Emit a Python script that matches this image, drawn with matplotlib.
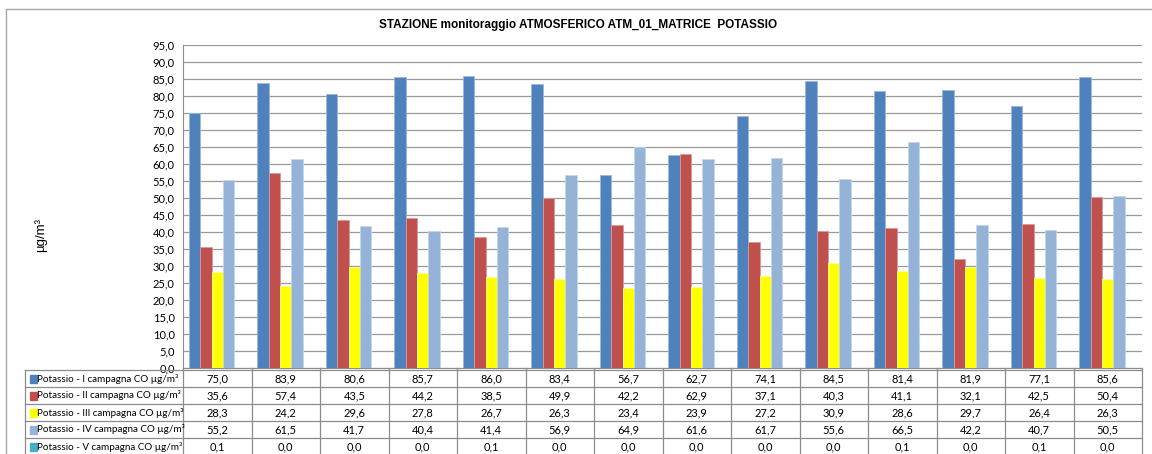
import matplotlib
matplotlib.use("Agg")
import matplotlib.pyplot as plt
from matplotlib.patches import Rectangle
from matplotlib.lines import Line2D
import numpy as np

series_names = [
    "Potassio - I campagna CO µg/m³",
    "Potassio - II campagna CO µg/m³",
    "Potassio - III campagna CO µg/m³",
    "Potassio - IV campagna CO µg/m³",
    "Potassio - V campagna CO µg/m³",
]
camp_1 = [75.0, 83.9, 80.6, 85.7, 86.0, 83.4, 56.7, 62.7, 74.1, 84.5, 81.4, 81.9, 77.1, 85.6]
camp_2 = [35.6, 57.4, 43.5, 44.2, 38.5, 49.9, 42.2, 62.9, 37.1, 40.3, 41.1, 32.1, 42.5, 50.4]
camp_3 = [28.3, 24.2, 29.6, 27.8, 26.7, 26.3, 23.4, 23.9, 27.2, 30.9, 28.6, 29.7, 26.4, 26.3]
camp_4 = [55.2, 61.5, 41.7, 40.4, 41.4, 56.9, 64.9, 61.6, 61.7, 55.6, 66.5, 42.2, 40.7, 50.5]
camp_5 = [0.1, 0.0, 0.0, 0.0, 0.1, 0.0, 0.0, 0.0, 0.0, 0.0, 0.1, 0.0, 0.1, 0.0]
all_series = [camp_1, camp_2, camp_3, camp_4, camp_5]

colors = ["#4F81BD", "#C0504D", "#FFFF00", "#95B3D7", "#4BACC6"]
edges = ["#9DB8DC", "#DA9A98", "#FFFF99", "#C5D6EA", "#B7DEE8"]

W, H = 1152, 454
fig = plt.figure(figsize=(W / 100, H / 100), dpi=100)
plt.rcParams["font.family"] = ["Lato", "DejaVu Sans"]

def fx(px):
    return px / W

def fy(py):
    return 1 - py / H

# plot area in pixels
left, right, top, bottom = 183, 1142, 45, 368
ax = fig.add_axes([fx(left), fy(bottom), fx(right - left), (bottom - top) / H])

n = len(camp_1)
x = np.arange(n)
bw = 0.165
for i, vals in enumerate(all_series):
    ax.bar(x + (i - 2) * bw, vals, width=bw, color=colors[i],
           edgecolor=edges[i], linewidth=0.6, zorder=3)

ax.set_xlim(-0.5, n - 0.5)
ax.set_ylim(0, 95)
ax.set_yticks(np.arange(0, 96, 5))
ax.set_yticklabels([f"{v:.1f}".replace(".", ",") for v in np.arange(0, 96, 5)], fontsize=8)
ax.set_xticks([])
ax.yaxis.grid(True, color="#999999", linewidth=0.9, zorder=0)
ax.tick_params(axis="y", length=0, pad=6)
for s in ["top", "right"]:
    ax.spines[s].set_visible(False)
ax.spines["left"].set_color("#8C8C8C")
ax.spines["bottom"].set_color("#8C8C8C")

# title and axis label
fig.text(fx(578), fy(25), "STAZIONE monitoraggio ATMOSFERICO ATM_01_MATRICE  POTASSIO",
         ha="center", va="center", fontsize=8.5, fontweight="bold", family="Liberation Sans")
fig.text(fx(41), fy(235), "µg/m³", rotation=90, ha="center", va="center",
         fontsize=9.5, family="Liberation Sans")

# outer chart frame
fig.add_artist(Line2D([fx(6), fx(6)], [fy(9), 0], transform=fig.transFigure, color="#A6A6A6", lw=1))
fig.add_artist(Line2D([fx(6), 1], [fy(9), fy(9)], transform=fig.transFigure, color="#A6A6A6", lw=1))

# data table below the plot
tab_left = 25
row_tops = [370, 387, 404, 421, 438, 455]
col_w = (right - left) / n
lc = "#8C8C8C"
for r in row_tops:
    fig.add_artist(Line2D([fx(tab_left), fx(right)], [fy(r), fy(r)],
                          transform=fig.transFigure, color=lc, lw=0.9))
fig.add_artist(Line2D([fx(tab_left), fx(tab_left)], [fy(370), fy(455)],
                      transform=fig.transFigure, color=lc, lw=0.9))
for k in range(n + 1):
    xc = left + k * col_w
    fig.add_artist(Line2D([fx(xc), fx(xc)], [fy(368), fy(455)],
                          transform=fig.transFigure, color=lc, lw=0.9))

for i, vals in enumerate(all_series):
    yc = (row_tops[i] + row_tops[i + 1]) / 2
    fig.add_artist(Rectangle((fx(30), fy(yc + 4)), 7 / W, 8 / H,
                             transform=fig.transFigure, color=colors[i]))
    fig.text(fx(37), fy(yc), series_names[i], ha="left", va="center", fontsize=7.1)
    for k, v in enumerate(vals):
        fig.text(fx(left + (k + 0.5) * col_w), fy(yc), f"{v:.1f}".replace(".", ","),
                 ha="center", va="center", fontsize=8)

fig.savefig("out.png", dpi=100)
